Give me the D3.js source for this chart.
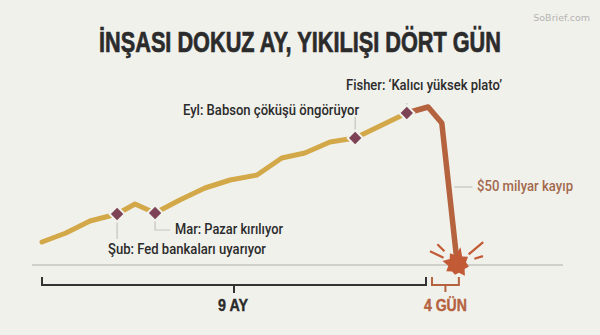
<!DOCTYPE html>
<html><head><meta charset="utf-8">
<script src="https://cdnjs.cloudflare.com/ajax/libs/d3/7.9.0/d3.min.js"></script>
<style>html,body{margin:0;padding:0;background:#f1f1ec}svg{display:block}</style>
</head><body><svg id="c" width="600" height="335"></svg>
<script>
const titleText = "İNŞASI DOKUZ AY, YIKILIŞI DÖRT GÜN";
const watermark = "SoBrief.com";
// x = months since start, y = market index (arbitrary units above baseline)
const riseMonths = [0,0.56,1.125,1.76,2.18,2.65,3.23,3.82,4.41,5.04,5.62,6.16,6.75,7.34,8.55];
const riseValues = [23,32,44,51,61,52,65,77,85,90,107,112,123,127,152];
const crashMonths = [8.55,9.05,9.37,9.73];
const crashValues = [152,158,142,2];
const eventMonths = [1.76,2.65,7.34,8.55];
const eventValues = [51,52,127,152];
const eventLabels = ["Şub: Fed bankaları uyarıyor","Mar: Pazar kırılıyor","Eyl: Babson çöküşü öngörüyor","Fisher: ‘Kalıcı yüksek plato’"];
const lossLabel = "$50 milyar kayıp";
const spanLabels = ["9 AY","4 GÜN"];
const spanMonths = [[0,9],[9.14,9.77]];
const burstRadii = [17,9,13,9,12,9,14,9,11,9,13,9,15,9,13,9];
const rayAngles = [-65,-45,50,73];
const rayStart = [15,18,15,18];
const rayEnd = [30,28,34,27];

const svg = d3.select("#c");
const x = d3.scaleLinear().domain([0,9]).range([42,426]);
const y = d3.scaleLinear().domain([0,200]).range([265,65]);
const GOLD="#d2a848", RUST="#b5623f", PLUM="#7d4256", BG="#f1f1ec", INK="#2b2b2b", GREY="#c4c4bf";
const bodyFont="Roboto, Lato, sans-serif";
const headFont="'Liberation Sans'";

svg.append("rect").attr("width",600).attr("height",335).attr("fill",BG);
svg.append("text").attr("x",590).attr("y",21).attr("text-anchor","end")
  .attr("font-family","'DejaVu Sans'").attr("font-size",9.5).attr("fill","#b4b4b2").text(watermark);
const condensed=(t,cx,by,size,w,c,sw)=>{
  const s=svg.append("text").attr("text-anchor","middle").attr("font-family",headFont).attr("font-weight",700)
    .attr("font-size",size).attr("fill",c).attr("stroke",c).attr("stroke-width",sw).text(t);
  const natural=s.node().getComputedTextLength();
  s.attr("transform",`translate(${cx},${by}) scale(${w/natural},1)`);
};
condensed(titleText,300,52,29,402,INK,0.7);

// baseline
svg.append("line").attr("x1",32).attr("x2",563).attr("y1",y(0)).attr("y2",y(0)).attr("stroke",GREY).attr("stroke-width",1.5);

// lines
const line = d3.line().x(d=>x(d[0])).y(d=>y(d[1]));
svg.append("path").attr("d",line(d3.zip(riseMonths,riseValues))).attr("fill","none")
  .attr("stroke",GOLD).attr("stroke-width",5).attr("stroke-linecap","round").attr("stroke-linejoin","round");
svg.append("path").attr("d",line(d3.zip(crashMonths,crashValues))).attr("fill","none")
  .attr("stroke",RUST).attr("stroke-width",5.5).attr("stroke-linejoin","round");

// leaders
const leader = (pts,c)=>svg.append("path").attr("d",d3.line()(pts)).attr("fill","none").attr("stroke",c||GREY).attr("stroke-width",1.2);
const ex=eventMonths.map(x), ey=eventValues.map(y);
leader([[ex[0],ey[0]],[ex[0],ey[0]+25]]);
leader([[ex[1],ey[1]],[ex[1],ey[1]+17],[ex[1]+15,ey[1]+17]]);
leader([[ex[2],ey[2]],[ex[2],ey[2]-21]]);
leader([[ex[3],ey[3]],[ex[3],ey[3]-10]]);
leader([[x(9.62)+2,y(78)],[x(9.62)+20,y(78)]]);

// diamonds
svg.selectAll("path.ev").data(d3.zip(eventMonths,eventValues)).join("path").attr("class","ev")
  .attr("d",d3.symbol(d3.symbolSquare,115)())
  .attr("transform",d=>`translate(${x(d[0])},${y(d[1])}) rotate(45)`)
  .attr("fill",PLUM).attr("stroke",BG).attr("stroke-width",2);

// labels
const lab=(t,xx,yy,c,a)=>svg.append("text").attr("x",xx).attr("y",yy).attr("text-anchor",a||"start")
  .attr("font-family",bodyFont).attr("font-size",14).attr("font-weight",500).attr("fill",c||INK).text(t);
const setW=(s,w)=>s.attr("textLength",w).attr("lengthAdjust","spacingAndGlyphs");
setW(lab(eventLabels[0],108,254),158);
setW(lab(eventLabels[1],175,234),108);
setW(lab(eventLabels[2],183,115),176);
setW(lab(eventLabels[3],346,90),156);
setW(lab(lossLabel,477,191,"#a3694c"),96);

// burst
const cx=x(9.73), cy=y(2)+1;
const radial=d3.lineRadial().angle((d,i)=>i*2*Math.PI/burstRadii.length+0.2).radius(d=>d).curve(d3.curveLinearClosed);
const burst=svg.append("g").attr("transform",`translate(${cx},${cy})`);
burst.append("path").attr("d",radial(burstRadii)).attr("fill","#c25a36");
burst.selectAll("line").data(rayAngles).join("line")
  .attr("x1",(d,i)=>rayStart[i]*Math.sin(d*Math.PI/180)).attr("y1",(d,i)=>-rayStart[i]*Math.cos(d*Math.PI/180))
  .attr("x2",(d,i)=>rayEnd[i]*Math.sin(d*Math.PI/180)).attr("y2",(d,i)=>-rayEnd[i]*Math.cos(d*Math.PI/180))
  .attr("stroke","#c25a36").attr("stroke-width",2.2);

// brackets
const bracket=(s,c,tick,w)=>{const a=x(s[0]),b=x(s[1]),m=(a+b)/2,t=277,bt=285;
  svg.append("path").attr("d",d3.line()([[a,t],[a,bt],[b,bt],[b,t]])).attr("fill","none").attr("stroke",c).attr("stroke-width",w);
  svg.append("line").attr("x1",m).attr("x2",m).attr("y1",bt).attr("y2",bt+tick).attr("stroke",c).attr("stroke-width",w);
  return m;};
const m0=bracket(spanMonths[0],"#333",8,2), m1=bracket(spanMonths[1],RUST,7,2);
condensed(spanLabels[0],m0-1,311,16.5,30,INK,0.4);
condensed(spanLabels[1],m1,311,16.5,43,RUST,0.4);
</script></body></html>
